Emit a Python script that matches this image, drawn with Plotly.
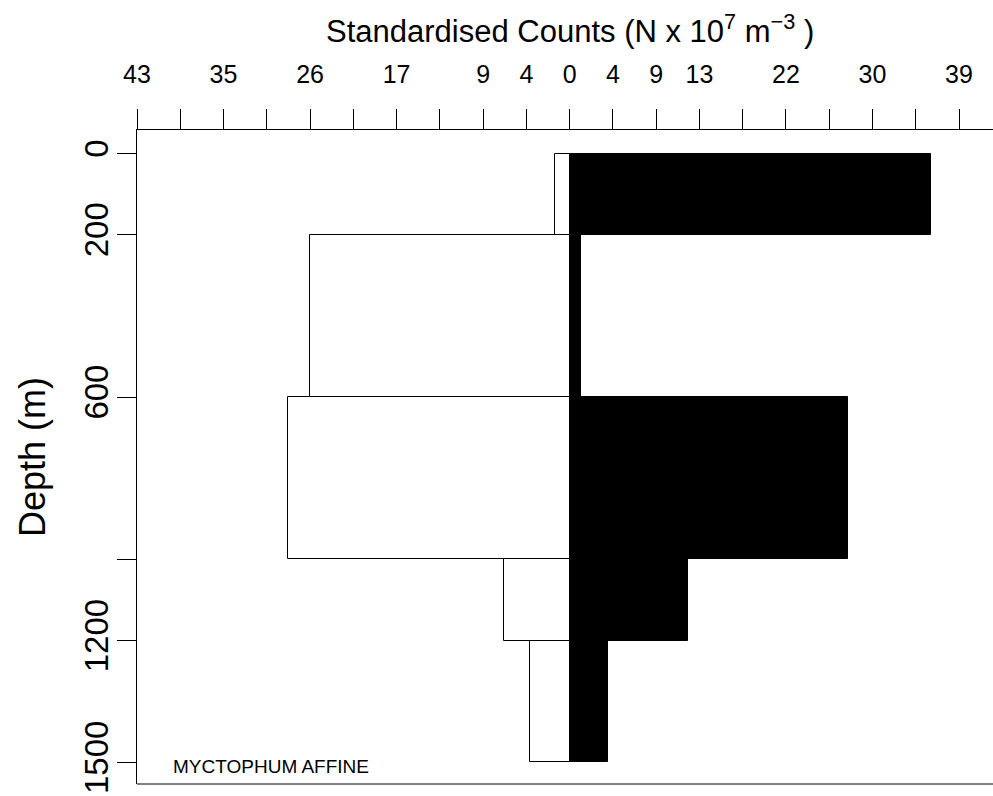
import plotly.graph_objects as go

# Depth strata (m)
depth_top = [0, 200, 600, 1000, 1200]
depth_bottom = [200, 600, 1000, 1200, 1500]
# Standardised counts (N x 10^7 m^-3)
left_counts = [1.5, 26.0, 28.2, 6.6, 4.0]     # white bars (left side)
right_counts = [36.2, 1.1, 27.9, 11.9, 3.8]   # black bars (right side)

# Axis ticks
x_step = 43.33 / 10
x_tick_index = list(range(-10, 11))
x_labelled = [-10, -8, -6, -4, -2, -1, 0, 1, 2, 3, 5, 7, 9]
y_tickvals = [0, 200, 600, 1000, 1200, 1500]
y_ticktext = ["0", "200", "600", "", "1200", "1500"]

mid = [(a + b) / 2 for a, b in zip(depth_top, depth_bottom)]
thick = [b - a for a, b in zip(depth_top, depth_bottom)]

FONT = "Liberation Sans, Arial, sans-serif"

fig = go.Figure()
fig.add_trace(go.Bar(
    y=mid, x=[-v for v in left_counts], width=thick, base=0, orientation="h",
    marker=dict(color="white", line=dict(color="black", width=1)),
    showlegend=False,
))
fig.add_trace(go.Bar(
    y=mid, x=right_counts, width=thick, base=0, orientation="h",
    marker=dict(color="black", line=dict(color="black", width=1)),
    showlegend=False,
))

xtickvals = [i * x_step for i in x_tick_index]
xticktext = [str(round(abs(i) * x_step)) if i in x_labelled else "" for i in x_tick_index]

fig.update_layout(
    width=993, height=796,
    margin=dict(l=137, r=0, t=130, b=12),
    paper_bgcolor="white", plot_bgcolor="white",
    barmode="overlay", bargap=0,
    font=dict(family=FONT, color="black"),
    xaxis=dict(
        side="top", range=[-43.33, 42.4],
        tickmode="array", tickvals=xtickvals, ticktext=xticktext,
        ticks="outside", ticklen=20, tickcolor="black", tickwidth=1,
        showline=True, linecolor="black", linewidth=1,
        showgrid=False, zeroline=False,
        tickfont=dict(size=25, family=FONT, color="black"),
        ticklabelstandoff=16,
    ),
    yaxis=dict(
        range=[1553.5, -57.9],
        tickmode="array", tickvals=y_tickvals, ticktext=y_ticktext,
        ticks="outside", ticklen=19, tickcolor="black", tickwidth=1,
        showline=True, linecolor="black", linewidth=1,
        showgrid=False, zeroline=False, tickangle=-90,
        tickfont=dict(size=33, family=FONT, color="black"),
        ticklabelstandoff=-4,
    ),
    shapes=[dict(type="line", xref="paper", yref="paper", x0=0, x1=1, y0=0, y1=0,
                 line=dict(color="black", width=1))],
    annotations=[
        dict(text="Standardised Counts (N x 10<sup>7</sup> m<sup>\u22123</sup> )",
             xref="paper", yref="paper", x=(569.6 - 137) / (993 - 137), y=1,
             xanchor="center", yanchor="middle", yshift=101, showarrow=False,
             font=dict(size=31, family=FONT, color="black")),
        dict(text="Depth (m)", xref="paper", yref="paper", x=0, y=0.5,
             xanchor="center", yanchor="middle", xshift=-105, textangle=-90,
             showarrow=False, font=dict(size=36, family=FONT, color="black")),
        dict(text="MYCTOPHUM AFFINE", xref="x", yref="y", x=-39.9, y=1511,
             xanchor="left", yanchor="middle", showarrow=False,
             font=dict(size=19, family=FONT, color="black")),
    ],
)

fig.write_html("out.html")
